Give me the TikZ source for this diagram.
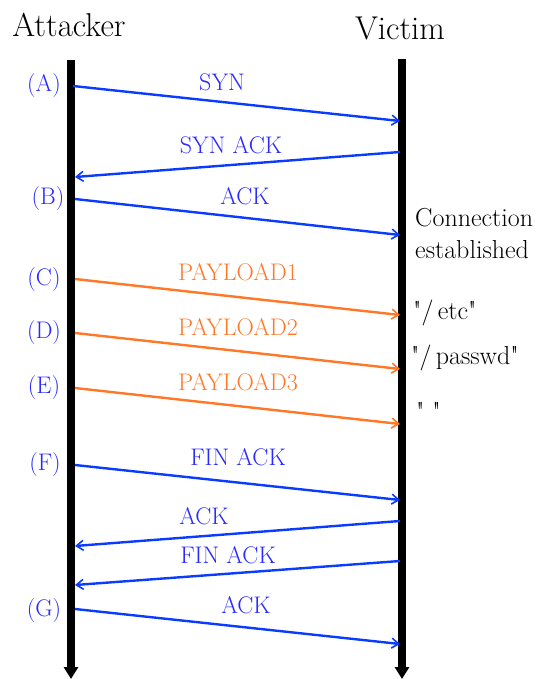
\documentclass[tikz,border=0pt]{standalone}
\usepackage{fontspec}
\setmainfont{Latin Modern Roman}
\newfontfamily\qfont{Latin Modern Roman}
\usetikzlibrary{arrows.meta}
\definecolor{msgblue}{RGB}{10,60,255}
\definecolor{txtblue}{RGB}{40,40,255}
\definecolor{msgorange}{RGB}{255,120,40}
\begin{document}
\begin{tikzpicture}[x=1pt,y=-1pt,
  life/.style={line width=8pt,-{Triangle[length=12pt,width=14pt]}},
  msg/.style={line width=2.4pt,msgblue,-{Straight Barb[length=7pt,width=10pt,line width=1.6pt]}},
  pay/.style={msg,draw=msgorange},
  lbl/.style={font=\fontsize{24}{28}\selectfont,inner sep=0pt},
  blbl/.style={lbl,text=txtblue},
  olbl/.style={lbl,text=msgorange},
  side/.style={font=\fontsize{24}{28}\selectfont,inner sep=0pt,text=txtblue},
  note/.style={font=\qfont\fontsize{26}{32}\selectfont,inner sep=0pt,anchor=west,align=left},
  head/.style={font=\fontsize{33}{36}\selectfont,inner sep=0pt}]
\useasboundingbox (0,0) rectangle (541,679);
\node[head] (att) at (69,25) {Attacker};
\node[head] (vic) at (400,28) {Victim};
\coordinate (at0) at (71,60);
\coordinate (at1) at (71,679);
\coordinate (vt0) at (402,59);
\coordinate (vt1) at (402,679);
\draw[life] (at0) -- (at1);
\draw[life] (vt0) -- (vt1);
% endpoints
\coordinate (a1) at (73,86);  \coordinate (v1) at (400,121);
\coordinate (v2) at (400,152); \coordinate (a2) at (75,177);
\coordinate (a3) at (75,199); \coordinate (v3) at (400,235);
\coordinate (a4) at (75,279); \coordinate (v4) at (400,315);
\coordinate (a5) at (75,333); \coordinate (v5) at (400,369);
\coordinate (a6) at (75,388); \coordinate (v6) at (400,424);
\coordinate (a7) at (75,465); \coordinate (v7) at (400,500);
\coordinate (v8) at (400,521); \coordinate (a8) at (75,546);
\coordinate (v9) at (400,561); \coordinate (a9) at (75,585);
\coordinate (a10) at (75,609); \coordinate (v10) at (400,644);
\draw[msg] (a1) -- (v1);
\draw[msg] (v2) -- (a2);
\draw[msg] (a3) -- (v3);
\draw[pay] (a4) -- (v4);
\draw[pay] (a5) -- (v5);
\draw[pay] (a6) -- (v6);
\draw[msg] (a7) -- (v7);
\draw[msg] (v8) -- (a8);
\draw[msg] (v9) -- (a9);
\draw[msg] (a10) -- (v10);
% message labels
\node[blbl] (l1) at (222,82) {SYN};
\node[blbl] (l2) at (231,145) {SYN ACK};
\node[blbl] (l3) at (245,196) {ACK};
\node[olbl] (l4) at (238,272) {PAYLOAD1};
\node[olbl] (l5) at (238,327) {PAYLOAD2};
\node[olbl] (l6) at (238,382) {PAYLOAD3};
\node[blbl] (l7) at (238,457) {FIN ACK};
\node[blbl] (l8) at (204,516) {ACK};
\node[blbl] (l9) at (228,555) {FIN ACK};
\node[blbl] (l10) at (246,605) {ACK};
% side labels
\node[side] (sA) at (44,86) {(A)};
\node[side] (sB) at (48,199) {(B)};
\node[side] (sC) at (44,280) {(C)};
\node[side] (sD) at (44,333) {(D)};
\node[side] (sE) at (44,388) {(E)};
\node[side] (sF) at (45,465) {(F)};
\node[side] (sG) at (44,611) {(G)};
% notes
\node[note] (n1) at (415,234) {Connection\\established};
\node[note] (n2) at (413,313) {"/\,etc"};
\node[note] (n3) at (411,358) {"/\,passwd"};
\node[note] (n4) at (416,411) {" "};
\end{tikzpicture}
\end{document}
